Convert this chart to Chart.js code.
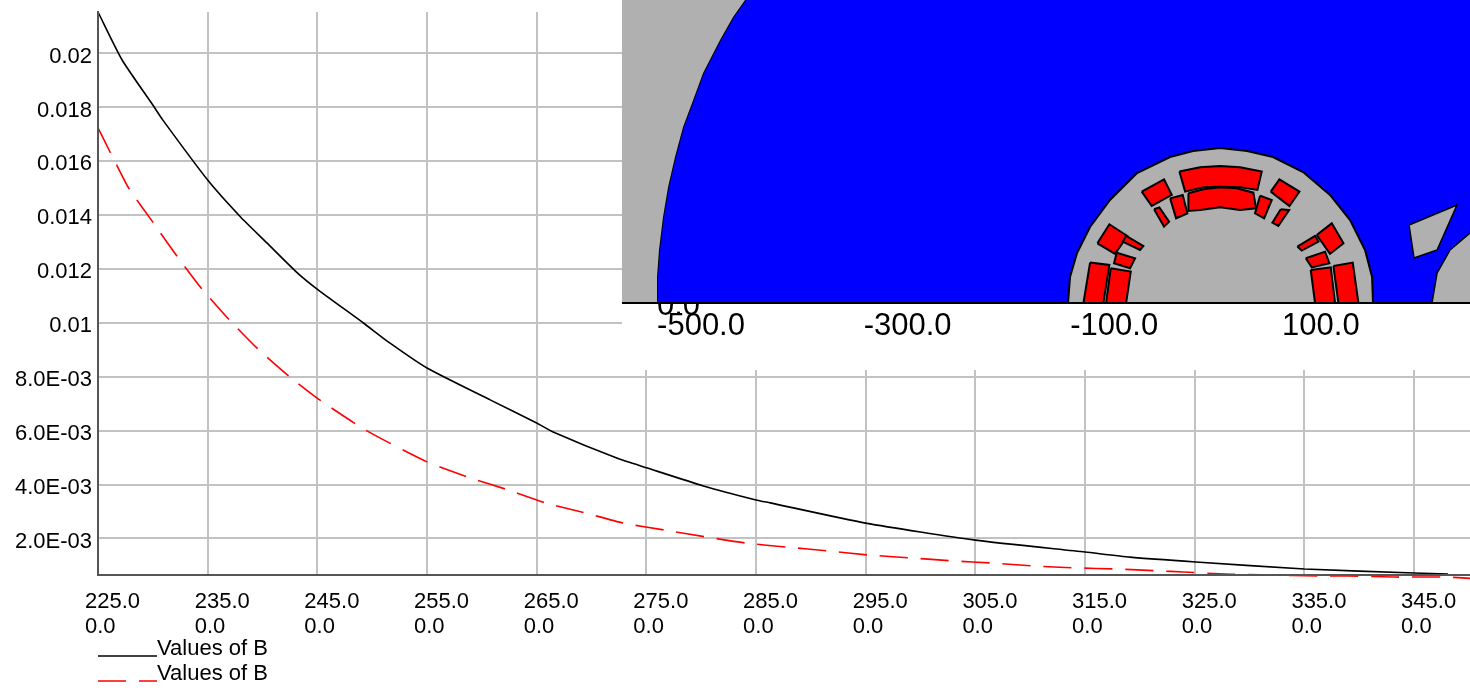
<!DOCTYPE html>
<html>
<head>
<meta charset="utf-8">
<title>Values of B</title>
<script src="https://cdn.jsdelivr.net/npm/chart.js@4/dist/chart.umd.min.js"></script>
<style>
  html, body { margin: 0; background: #fff; overflow: hidden; }
  #wrap { position: relative; width: 1470px; height: 692px; }
  #chart-main { position: absolute; left: 0; top: 0; }
  #chart-inset { position: absolute; left: 622px; top: 0; background: #fff; }
</style>
</head>
<body>
<div id="wrap">
  <canvas id="chart-main" width="1470" height="692"></canvas>
  <canvas id="chart-inset" width="848" height="370"></canvas>
</div>
<script>
// main plot: x values and the two B curves
const blackX = [225, 227.2, 230, 230.9, 235, 238, 240.4, 243.2, 245.1, 249.2, 251.6, 255, 260.8, 265, 266.5, 272.3, 275.1, 280.2, 285, 286.3, 295, 305, 315, 319.1, 325.1, 335, 345, 348.1];
const blackY = [0.02152, 0.01974, 0.01807, 0.01752, 0.01529, 0.01392, 0.01296, 0.01184, 0.01121, 0.00999, 0.00925, 0.00832, 0.00713, 0.00628, 0.00595, 0.00498, 0.00461, 0.00395, 0.00343, 0.00332, 0.00257, 0.00194, 0.0015, 0.00131, 0.00113, 0.00087, 0.00072, 0.00068];
const redX = [225, 226.1, 226.7, 227.8, 230, 232.2, 234.4, 236.9, 239.5, 242.4, 245.1, 249.4, 255, 258.7, 262.1, 265.8, 269.4, 272.9, 276.7, 280.4, 284.1, 287.8, 291.6, 295.2, 299.1, 302.9, 306.5, 310.3, 314.1, 317.9, 321.6, 324, 327.8, 331.6, 336.2, 339, 343.1, 347.9, 350.1];
const redY = [0.01722, 0.01633, 0.01585, 0.01499, 0.01373, 0.01247, 0.01129, 0.01014, 0.00906, 0.00802, 0.00717, 0.00602, 0.00484, 0.00428, 0.00384, 0.00332, 0.00295, 0.00257, 0.00231, 0.00206, 0.00183, 0.00168, 0.00154, 0.00139, 0.00128, 0.00117, 0.00109, 0.00098, 0.00091, 0.00087, 0.0008, 0.00076, 0.00068, 0.00065, 0.00061, 0.00061, 0.00057, 0.00057, 0.00052];
const seriesNames = ["Values of B", "Values of B"];

const xTickValues = [225, 235, 245, 255, 265, 275, 285, 295, 305, 315, 325, 335, 345];
const xTickLabels = ["225.0", "235.0", "245.0", "255.0", "265.0", "275.0", "285.0", "295.0", "305.0", "315.0", "325.0", "335.0", "345.0"];
const xSubLabel = "0.0";
const yTickValues = [0.002, 0.004, 0.006, 0.008, 0.01, 0.012, 0.014, 0.016, 0.018, 0.02];
const yTickLabels = ["2.0E-03", "4.0E-03", "6.0E-03", "8.0E-03", "0.01", "0.012", "0.014", "0.016", "0.018", "0.02"];

// inset: machine cross-section outlines, [x, y] in the inset's own units
const insetXTicks = [-500, -300, -100, 100];
const insetXLabels = ["-500.0", "-300.0", "-100.0", "100.0"];
const insetYTicks = [0];
const insetYLabels = ["0.0"];

const outerGrey = [[-576.5, 0], [-576.5, 293.3], [-457.4, 293.3], [-469, 276.9], [-481.6, 254.6], [-498, 222.7], [-508.7, 193.6], [-517.4, 170.4], [-525.2, 141.3], [-531.9, 112.3], [-536.8, 83.3], [-540.7, 51.3], [-542.6, 25.2], [-542.6, 0]];
// runs past the top and right of the plot so only the arc shows an outline
const blueField = [[-542.6, 0], [-542.6, 25.2], [-540.7, 51.3], [-536.8, 83.3], [-531.9, 112.3], [-525.2, 141.3], [-517.4, 170.4], [-508.7, 193.6], [-498, 222.7], [-481.6, 254.6], [-469, 276.9], [-457.4, 293.3], [-450, 303], [254, 303], [254, 0]];
const stator = [[-144.7, 0], [-142.8, 25.2], [-136, 48.4], [-123.4, 73.6], [-104.1, 99.7], [-77.9, 125.8], [-46, 141.3], [-23.7, 147.1], [2.4, 150], [28.6, 147.1], [53.7, 141.3], [82.8, 126.8], [108.9, 104.6], [128.3, 80.3], [142.8, 51.3], [149.6, 25.2], [150.5, 0]];
const island = [[185.4, 75.5], [231.8, 94.9], [212.5, 51.3], [190.2, 43.6]];
const rightDisc = [[207.6, 0], [212.5, 29], [225.1, 51.3], [244.4, 67.8], [254, 72], [254, 0]];

const coils = [
  [[-36.9, 127.2], [-16.9, 131.4], [2.5, 132.6], [21.8, 131.4], [42.8, 127.2], [38.6, 109.4], [21.8, 112], [2.5, 112.6], [-13.7, 112], [-31.4, 107.8]],
  [[-28.2, 106.2], [-13.7, 110.1], [2.5, 112], [18.6, 111], [34.7, 106.8], [37.3, 91.7], [21.8, 90], [2.5, 92.6], [-16.9, 90], [-28.2, 89.1]],
  [[-73.4, 107.8], [-51.8, 119.7], [-44.3, 104.6], [-63.7, 93.9]],
  [[-45.9, 101.3], [-33.7, 104.6], [-29.2, 86.8], [-40.1, 82]],
  [[-61.4, 90.7], [-56.3, 92.6], [-46.9, 78.8], [-51.8, 73.9]],
  [[51.5, 107.8], [59.9, 119.7], [79.3, 107.8], [69.6, 93.9]],
  [[41.2, 103.9], [52.5, 99.7], [45.1, 82], [36.3, 86.8]],
  [[61.2, 90.7], [69.3, 90], [58.9, 74.6], [53.1, 77.8]],
  [[-116.3, 57.8], [-104.7, 76.2], [-87.3, 64.9], [-99.2, 47.5]],
  [[-88.5, 64.9], [-71.8, 55.2], [-75, 51.3], [-91.8, 59.4]],
  [[-97.6, 48.7], [-79.8, 43.3], [-84.7, 33.6], [-100.2, 38.4]],
  [[-123.4, 39.1], [-104.7, 36.8], [-110.5, 0], [-129.8, 0]],
  [[-103.4, 33.6], [-84, 30.4], [-88.5, 0], [-107.9, 0]],
  [[96, 65.8], [110.6, 77.1], [121.9, 57.8], [108.9, 47.5]],
  [[77.3, 54.6], [94.4, 64.9], [97.7, 59.4], [81.5, 50.7]],
  [[85.4, 43.3], [104.1, 49.7], [108.3, 38.4], [91.2, 34.5]],
  [[90.2, 32], [109.6, 34.5], [113.8, 0], [94.4, 0]],
  [[112.2, 35.8], [130.9, 39.1], [136.4, 0], [117, 0]],
];

const FONT = "'Liberation Sans', Arial, sans-serif";

function toPoints(xs, ys) {
  return xs.map(function (x, i) {
    return { x: x, y: ys[i] };
  });
}

function polygon(outline, fillColor, lineWidth) {
  const pts = outline.map(function (p) {
    return { x: p[0], y: p[1] };
  });
  pts.push(pts[0]);
  return {
    data: pts,
    showLine: true,
    fill: "shape",
    backgroundColor: fillColor,
    borderColor: "#000",
    borderWidth: lineWidth,
    pointRadius: 0,
    tension: 0,
  };
}

// x labels sit a little left of their tick, as in the original plot
const shiftXLabels = {
  id: "shiftXLabels",
  beforeDraw(chart) {
    chart.scales.x.getLabelItems().forEach(function (item) {
      if (!item.shifted) {
        item.options.translation[0] -= 13;
        item.shifted = true;
      }
    });
  },
};

// legend: sample line sits on the text baseline, so the stock legend can't do it
const lineLegend = {
  id: "lineLegend",
  afterDraw(chart) {
    const ctx = chart.ctx;
    chart.data.datasets.forEach(function (ds, i) {
      const y = 656 + i * 25;
      ctx.save();
      ctx.strokeStyle = ds.borderColor;
      ctx.lineWidth = 1.5;
      ctx.setLineDash(ds.borderDash || []);
      ctx.beginPath();
      ctx.moveTo(98, y);
      ctx.lineTo(157, y);
      ctx.stroke();
      ctx.setLineDash([]);
      ctx.fillStyle = "#000";
      ctx.font = "22px " + FONT;
      ctx.textBaseline = "alphabetic";
      ctx.fillText(ds.label, 157, y - 1.5);
      ctx.restore();
    });
  },
};

new Chart(document.getElementById("chart-main"), {
  type: "scatter",
  plugins: [shiftXLabels, lineLegend],
  data: {
    datasets: [
      {
        label: seriesNames[0],
        data: toPoints(blackX, blackY),
        showLine: true,
        borderColor: "#000",
        borderWidth: 1.6,
        pointRadius: 0,
        tension: 0.2,
        clip: false,
      },
      {
        label: seriesNames[1],
        data: toPoints(redX, redY),
        showLine: true,
        borderColor: "#ff0000",
        borderWidth: 1.6,
        borderDash: [28, 13],
        pointRadius: 0,
        tension: 0.2,
        clip: false,
      },
    ],
  },
  options: {
    responsive: false,
    animation: false,
    layout: { padding: { top: 12 } },
    plugins: { legend: { display: false }, tooltip: { enabled: false } },
    scales: {
      x: {
        type: "linear",
        min: 225,
        max: 350.1,
        afterBuildTicks(axis) {
          axis.ticks = xTickValues.map(function (v) {
            return { value: v };
          });
        },
        afterFit(axis) {
          axis.height = 117.5;
          axis.paddingLeft = 0;
          axis.paddingRight = 0;
        },
        grid: { color: "#c2c2c2", lineWidth: 2, drawTicks: false },
        border: { color: "#555", width: 2, z: 1 },
        ticks: {
          align: "start",
          autoSkip: false,
          maxRotation: 0,
          minRotation: 0,
          padding: 15,
          color: "#000",
          font: { family: FONT, size: 22, lineHeight: 1.12 },
          callback(value, index) {
            return [xTickLabels[index], xSubLabel];
          },
        },
      },
      y: {
        min: 0.000665,
        max: 0.02152,
        afterBuildTicks(axis) {
          axis.ticks = yTickValues.map(function (v) {
            return { value: v };
          });
        },
        afterFit(axis) {
          axis.width = 98;
          axis.paddingTop = 0;
          axis.paddingBottom = 0;
        },
        grid: { color: "#c2c2c2", lineWidth: 2, drawTicks: false },
        border: { color: "#555", width: 2, z: 1 },
        ticks: {
          autoSkip: false,
          padding: 6,
          color: "#000",
          labelOffset: 3.5,
          font: { family: FONT, size: 22 },
          callback(value, index) {
            return yTickLabels[index];
          },
        },
      },
    },
  },
});

// painted bottom to top; Chart.js draws the first dataset last, so reverse
const insetLayers = [
  polygon(blueField, "#0000ff", 2),
  polygon(outerGrey, "#b0b0b0", 0),
  polygon(stator, "#b0b0b0", 2),
  polygon(island, "#b0b0b0", 1.5),
  polygon(rightDisc, "#b0b0b0", 1.5),
].concat(coils.map(function (c) {
  return polygon(c, "#ff0000", 2);
}));

new Chart(document.getElementById("chart-inset"), {
  type: "scatter",
  data: { datasets: insetLayers.reverse() },
  options: {
    responsive: false,
    animation: false,
    layout: { padding: 0 },
    plugins: { legend: { display: false }, tooltip: { enabled: false } },
    scales: {
      x: {
        type: "linear",
        min: -576.5,
        max: 244.4,
        afterBuildTicks(axis) {
          axis.ticks = insetXTicks.map(function (v) {
            return { value: v };
          });
        },
        afterFit(axis) {
          axis.height = 67;
          axis.paddingLeft = 0;
          axis.paddingRight = 0;
        },
        grid: { display: false, drawTicks: false },
        border: { color: "#000", width: 2, z: 1 },
        ticks: {
          autoSkip: false,
          maxRotation: 0,
          minRotation: 0,
          padding: 4.5,
          color: "#000",
          font: { family: FONT, size: 31 },
          callback(value, index) {
            return insetXLabels[index];
          },
        },
      },
      y: {
        min: 0,
        max: 293.3,
        afterBuildTicks(axis) {
          axis.ticks = insetYTicks.map(function (v) {
            return { value: v };
          });
        },
        afterFit(axis) {
          axis.width = 0;
          axis.paddingTop = 0;
          axis.paddingBottom = 0;
        },
        grid: { display: false, drawTicks: false },
        border: { display: false },
        ticks: {
          mirror: true,
          padding: 35,
          labelOffset: 3,
          color: "#000",
          font: { family: FONT, size: 31 },
          callback(value, index) {
            return insetYLabels[index];
          },
        },
      },
    },
  },
});
</script>
</body>
</html>
